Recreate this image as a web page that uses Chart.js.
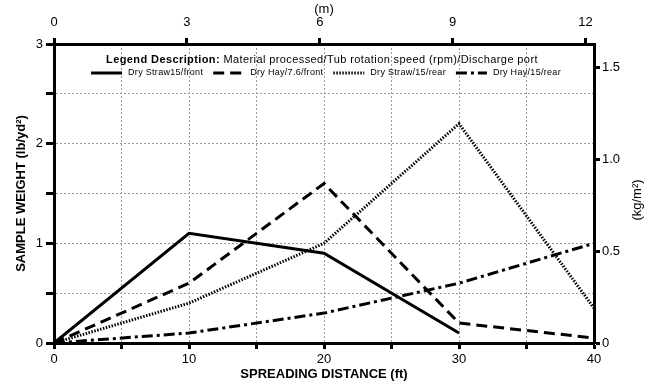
<!DOCTYPE html>
<html>
<head>
<meta charset="utf-8">
<script src="https://cdn.jsdelivr.net/npm/chart.js@4.4.0/dist/chart.umd.min.js"></script>
<style>
    body { margin: 0; background: #fff; }
    #wrap { width: 649px; height: 383px; }
</style>
</head>
<body>
<div id="wrap"><canvas id="spreadChart" width="649" height="383"></canvas></div>
<script>
// spreading distance (ft) and sample weight (lb/yd2)
const distanceFt = [0, 10, 20, 30, 40];
const strawFront = [0, 1.1, 0.9, 0.1, null];
const hayFront = [0, 0.6, 1.6, 0.2, 0.05];
const strawRear = [0, 0.4, 1.0, 2.2, 0.35];
const hayRear = [0, 0.1, 0.3, 0.6, 1.0];
const seriesLabels = ["Dry Straw15/front", "Dry Hay/7.6/front", "Dry Straw/15/rear", "Dry Hay/15/rear"];

// secondary axes
const meterTicks = [0, 3, 6, 9, 12];
const kgTicks = [0, 0.5, 1.0, 1.5];
const FT_TO_M = 0.3048;
const LB_TO_KG = 0.5425;

const font = "Arial, 'Liberation Sans', sans-serif";

function toPoints(values) {
    return distanceFt.map(function (x, i) {
        return { x: x, y: values[i] };
    });
}

function makeSet(label, values, dash, width) {
    return {
        label: label,
        data: toPoints(values),
        borderColor: '#000',
        borderWidth: width,
        borderDash: dash,
        pointRadius: 0,
        fill: false,
        tension: 0,
        spanGaps: false
    };
}

// draws the "Legend Description" box inside the plot and the right-hand title
const descLegend = {
    id: 'descLegend',
    afterDraw: function (chart) {
        const ctx = chart.ctx;
        ctx.save();
        ctx.fillStyle = '#000';
        ctx.textBaseline = 'middle';

        const head = "Legend Description: ";
        const rest = "Material processed/Tub rotation speed (rpm)/Discharge port";
        ctx.letterSpacing = '0.4px';
        ctx.font = "bold 11px " + font;
        const w1 = ctx.measureText(head).width;
        ctx.font = "11px " + font;
        const w2 = ctx.measureText(rest).width;
        let x = 322 - (w1 + w2) / 2;
        ctx.font = "bold 11px " + font;
        ctx.fillText(head, x, 60);
        ctx.font = "11px " + font;
        ctx.fillText(rest, x + w1, 60);

        // row of samples
        ctx.letterSpacing = '0.3px';
        ctx.font = "9px " + font;
        const lineLen = 31, gapA = 6, gapB = 10;
        let total = 0;
        chart.data.datasets.forEach(function (ds) {
            total += lineLen + gapA + ctx.measureText(ds.label).width + gapB;
        });
        x = 326 - (total - gapB) / 2;
        chart.data.datasets.forEach(function (ds) {
            ctx.beginPath();
            ctx.lineWidth = ds.borderWidth;
            ctx.setLineDash(ds.borderDash);
            ctx.moveTo(x, 73);
            ctx.lineTo(x + lineLen, 73);
            ctx.stroke();
            ctx.setLineDash([]);
            x += lineLen + gapA;
            ctx.fillText(ds.label, x, 73);
            x += ctx.measureText(ds.label).width + gapB;
        });

        // right axis title reads bottom to top
        ctx.letterSpacing = '0px';
        ctx.translate(637, 200);
        ctx.rotate(-Math.PI / 2);
        ctx.textAlign = 'center';
        ctx.font = "13px " + font;
        ctx.fillText("(kg/m²)", 0, 0);
        ctx.restore();
    }
};

function chart() {
    const ctx = document.getElementById('spreadChart').getContext('2d');
    const tickFont = { family: font, size: 13 };
    const axisBorder = { color: '#000', width: 3, dash: [2, 2] };

    const spreadChart = new Chart(ctx, {
        type: 'line',
        data: {
            datasets: [
                makeSet(seriesLabels[0], strawFront, [], 3),
                makeSet(seriesLabels[1], hayFront, [11, 6], 3),
                makeSet(seriesLabels[2], strawRear, [1.5, 1.5], 3),
                makeSet(seriesLabels[3], hayRear, [11, 4, 3, 4], 3)
            ]
        },
        options: {
            responsive: false,
            animation: false,
            layout: { padding: 0 },
            plugins: {
                legend: { display: false },
                tooltip: { enabled: false }
            },
            scales: {
                x: {
                    type: 'linear',
                    position: 'bottom',
                    min: 0,
                    max: 40,
                    grid: { color: '#999', lineWidth: 1, tickColor: '#000', tickWidth: 3, tickLength: 6 },
                    border: axisBorder,
                    ticks: {
                        stepSize: 5,
                        autoSkip: false,
                        maxRotation: 0,
                        color: '#000',
                        font: tickFont,
                        padding: 3,
                        callback: function (v) { return v % 10 === 0 ? v : ''; }
                    },
                    title: {
                        display: true,
                        text: 'SPREADING DISTANCE (ft)',
                        color: '#000',
                        font: { family: font, size: 13, weight: 'bold' },
                        padding: { top: 0, bottom: 1 }
                    },
                    afterFit: function (scale) { scale.height = 40; }
                },
                xTop: {
                    type: 'linear',
                    position: 'top',
                    min: 0,
                    max: 40 * FT_TO_M,
                    grid: { drawOnChartArea: false, tickColor: '#000', tickWidth: 3, tickLength: 6 },
                    border: { color: '#000', width: 3 },
                    ticks: { color: '#000', font: tickFont, padding: 8, maxRotation: 0 },
                    afterBuildTicks: function (scale) {
                        scale.ticks = meterTicks.map(function (v) { return { value: v }; });
                    },
                    title: {
                        display: true,
                        text: '(m)',
                        color: '#000',
                        font: { family: font, size: 13 },
                        padding: { top: 2, bottom: 0 }
                    },
                    afterFit: function (scale) { scale.height = 44; }
                },
                y: {
                    position: 'left',
                    min: 0,
                    max: 3,
                    grid: { color: '#999', lineWidth: 1, tickColor: '#000', tickWidth: 3, tickLength: 8 },
                    border: axisBorder,
                    ticks: {
                        stepSize: 0.5,
                        color: '#000',
                        font: tickFont,
                        padding: 3,
                        callback: function (v) { return v % 1 === 0 ? v : ''; }
                    },
                    title: {
                        display: true,
                        text: 'SAMPLE WEIGHT (lb/yd²)',
                        color: '#000',
                        font: { family: font, size: 13, weight: 'bold' },
                        padding: { top: 14, bottom: 0 }
                    },
                    afterFit: function (scale) { scale.width = 54; }
                },
                yRight: {
                    position: 'right',
                    min: 0,
                    max: 3 * LB_TO_KG,
                    grid: { drawOnChartArea: false, tickColor: '#000', tickWidth: 3, tickLength: 6 },
                    border: { color: '#000', width: 3 },
                    ticks: {
                        color: '#000',
                        font: tickFont,
                        padding: 2,
                        callback: function (v) { return v === 0 ? '0' : v.toFixed(1); }
                    },
                    afterBuildTicks: function (scale) {
                        scale.ticks = kgTicks.map(function (v) { return { value: v }; });
                    },
                    afterFit: function (scale) { scale.width = 55; }
                }
            }
        },
        plugins: [descLegend]
    });
}

chart();
</script>
</body>
</html>
